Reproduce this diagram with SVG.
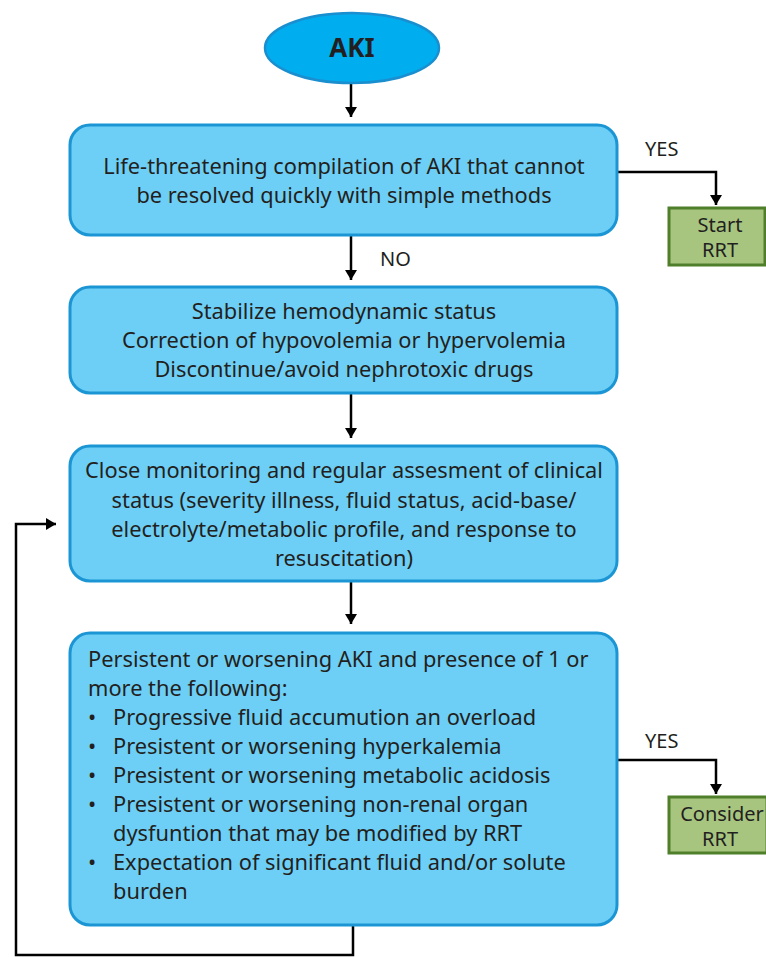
<svg xmlns="http://www.w3.org/2000/svg" width="766" height="957" viewBox="0 0 766 957">
<style>
.box{fill:#6dcff6;stroke:#1b95d3;stroke-width:3}
.rrt{fill:#a8c580;stroke:#4f7f2a;stroke-width:3}
.t{font-family:"Noto Sans","Open Sans",sans-serif;font-size:21.8px;fill:#231f20}
.s{font-size:20px}
.c{text-anchor:middle}
.ln{fill:none;stroke:#000;stroke-width:2.5}
</style>
<defs>
<marker id="ah" markerWidth="10" markerHeight="12" refX="10" refY="6" orient="auto" markerUnits="userSpaceOnUse" viewBox="0 0 10 12">
<path d="M0,0 L10,6 L0,12 Z" fill="#000"/>
</marker>
</defs>
<rect width="766" height="957" fill="#fff"/>
<g id="connectors">
<path class="ln" d="M351,84 V117" marker-end="url(#ah)"/>
<path class="ln" d="M618,172 H716 V205" marker-end="url(#ah)"/>
<path class="ln" d="M351,236 V280" marker-end="url(#ah)"/>
<path class="ln" d="M351,394 V438" marker-end="url(#ah)"/>
<path class="ln" d="M351,582 V624" marker-end="url(#ah)"/>
<path class="ln" d="M618,760 H716 V794" marker-end="url(#ah)"/>
<path class="ln" d="M353,926 V955 H16 V524 H56" marker-end="url(#ah)"/>
<text class="t s" x="645" y="156">YES</text>
<text class="t s" x="380" y="266">NO</text>
<text class="t s" x="645" y="748">YES</text>
</g>
<g id="aki">
<ellipse cx="352" cy="48" rx="87" ry="35" fill="#00aeef" stroke="#1a8fd0" stroke-width="2.5"/>
<text class="t c" x="352" y="57" style="font-size:26px;font-weight:bold">AKI</text>
</g>
<g id="life">
<rect class="box" x="70" y="125" width="547" height="110" rx="20"/>
<text class="t c" x="344" y="174">Life-threatening compilation of AKI that cannot</text>
<text class="t c" x="344" y="203">be resolved quickly with simple methods</text>
</g>
<g id="start">
<rect class="rrt" x="669" y="208" width="96" height="57"/>
<text class="t s c" x="720" y="232">Start</text>
<text class="t s c" x="720" y="257">RRT</text>
</g>
<g id="stabilize">
<rect class="box" x="70" y="287" width="547" height="106" rx="20"/>
<text class="t c" x="344" y="319">Stabilize hemodynamic status</text>
<text class="t c" x="344" y="348">Correction of hypovolemia or hypervolemia</text>
<text class="t c" x="344" y="377">Discontinue/avoid nephrotoxic drugs</text>
</g>
<g id="monitor">
<rect class="box" x="70" y="446" width="547" height="135" rx="20"/>
<text class="t c" x="344" y="478">Close monitoring and regular assesment of clinical</text>
<text class="t c" x="344" y="508">status (severity illness, fluid status, acid-base/</text>
<text class="t c" x="344" y="537">electrolyte/metabolic profile, and response to</text>
<text class="t c" x="344" y="566">resuscitation)</text>
</g>
<g id="persistent">
<rect class="box" x="70" y="633" width="547" height="292" rx="20"/>
<text class="t" x="88" y="667">Persistent or worsening AKI and presence of 1 or</text>
<text class="t" x="88" y="696">more the following:</text>
<g class="t">
<text x="88" y="725">•</text><text x="113" y="725">Progressive fluid accumution an overload</text>
<text x="88" y="754">•</text><text x="113" y="754">Presistent or worsening hyperkalemia</text>
<text x="88" y="783">•</text><text x="113" y="783">Presistent or worsening metabolic acidosis</text>
<text x="88" y="812">•</text><text x="113" y="812">Presistent or worsening non-renal organ</text>
<text x="113" y="841">dysfuntion that may be modified by RRT</text>
<text x="88" y="870">•</text><text x="113" y="870">Expectation of significant fluid and/or solute</text>
<text x="113" y="899">burden</text>
</g>
</g>
<g id="consider">
<rect class="rrt" x="669" y="797" width="98" height="56"/>
<text class="t s c" x="722" y="821">Consider</text>
<text class="t s c" x="720" y="846">RRT</text>
</g>
</svg>
